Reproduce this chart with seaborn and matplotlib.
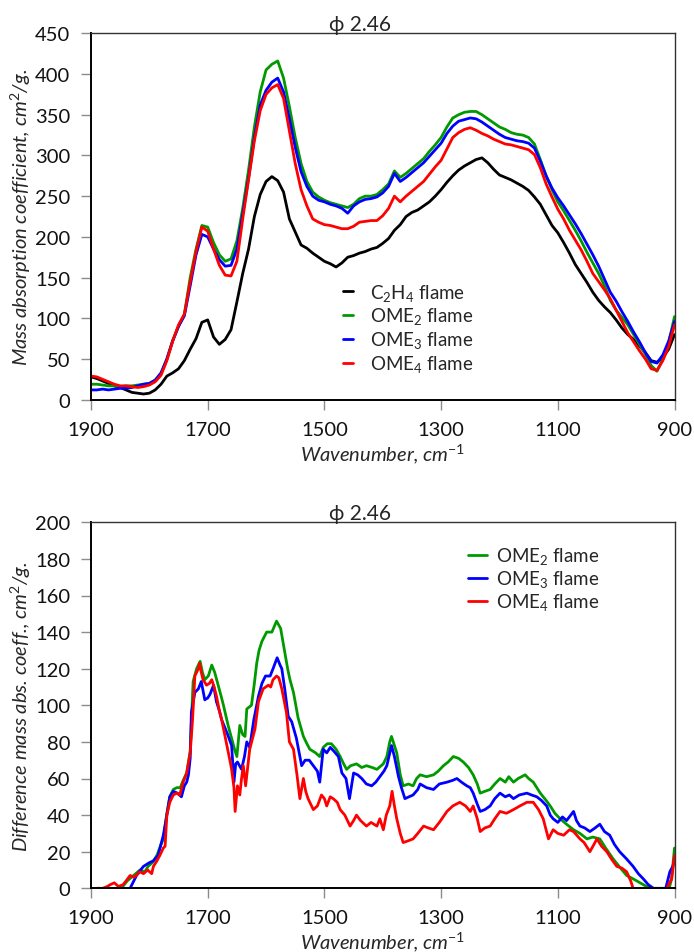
import matplotlib
matplotlib.use("Agg")
import matplotlib.pyplot as plt
import seaborn as sns

# ---------------------------------------------------------------------------
# Upper panel: mass absorption coefficient spectra (cm^2/g), 1900 -> 900 cm^-1
# ---------------------------------------------------------------------------
top_wavenumber = list(range(1900, 899, -10))

c2h4_flame = [
    28, 26, 23, 20, 17, 15, 12, 9, 8, 7,
    8, 12, 19, 29, 33, 38, 48, 62, 75, 95,
    98, 77, 68, 74, 86, 120, 155, 185, 225, 252,
    268, 274, 269, 255, 222, 206, 190, 186, 180, 175,
    170, 167, 163, 168, 175, 177, 180, 182, 185, 187,
    192, 198, 208, 215, 225, 230, 233, 238, 243, 250,
    258, 267, 275, 282, 287, 291, 295, 297, 291, 283,
    276, 273, 270, 266, 262, 257, 249, 240, 227, 214,
    205, 193, 180, 166, 155, 144, 132, 122, 114, 107,
    98, 88, 80, 74, 66, 58, 48, 46, 52, 62,
    80,
]
ome2_flame = [
    19, 19, 18, 17, 17, 16, 17, 17, 18, 19,
    20, 24, 32, 50, 73, 90, 105, 150, 185, 214,
    212, 193, 178, 170, 173, 195, 235, 282, 335, 378,
    405, 412, 416, 395, 360, 322, 290, 268, 255, 249,
    245, 242, 240, 238, 236, 240, 247, 250, 250, 252,
    258, 265, 281, 273, 278, 284, 290, 296, 305, 313,
    322, 335, 346, 350, 353, 354, 354, 350, 345, 340,
    335, 332, 328, 326, 325, 322, 314, 295, 275, 258,
    243, 232, 220, 208, 195, 181, 168, 155, 140, 122,
    110, 101, 92, 80, 68, 56, 42, 35, 50, 70,
    102,
]
ome3_flame = [
    12, 12, 13, 12, 13, 14, 14, 15, 17, 19,
    20, 24, 33, 50, 72, 90, 103, 140, 178, 203,
    200, 185, 172, 164, 165, 185, 228, 272, 322, 362,
    380, 390, 395, 378, 345, 310, 280, 262, 250, 245,
    243, 240, 238, 235, 229, 238, 243, 246, 247, 249,
    254, 262, 278, 268, 273, 279, 285, 291, 299, 307,
    315, 327, 336, 342, 344, 346, 345, 341, 336, 331,
    326, 322, 320, 318, 317, 315, 309, 293, 275, 260,
    248, 238, 227, 216, 204, 191, 178, 164, 148, 132,
    121, 108, 96, 83, 71, 58, 47, 45, 55, 72,
    96,
]
ome4_flame = [
    29, 28, 25, 22, 19, 17, 17, 16, 15, 16,
    18, 22, 30, 48, 72, 92, 105, 145, 182, 212,
    207, 185, 165, 153, 152, 170, 222, 270, 318, 355,
    375, 383, 387, 370, 330, 290, 258, 238, 222, 218,
    215, 214, 212, 210, 210, 213, 218, 219, 220, 220,
    226, 235, 250, 243, 250, 256, 262, 268, 277, 286,
    294, 308, 322, 328, 332, 334, 331, 327, 324, 320,
    317, 314, 313, 311, 309, 307, 301, 285, 265, 249,
    234, 222, 208, 196, 184, 170, 155, 145, 135, 124,
    110, 96, 82, 71, 60, 50, 38, 36, 48, 65,
    92,
]

# ---------------------------------------------------------------------------
# Lower panel: difference mass absorption coefficient (cm^2/g)
# ---------------------------------------------------------------------------
diff_ome2_wavenumber = [
    1900, 1870, 1848, 1838, 1827, 1816, 1808, 1802, 1795, 1787, 1780, 1776,
    1770, 1765, 1759, 1753, 1747, 1742, 1736, 1730, 1725, 1719, 1713, 1709,
    1705, 1699, 1693, 1688, 1682, 1677, 1673, 1665, 1659, 1654, 1650, 1645,
    1640, 1636, 1633, 1625, 1620, 1616, 1612, 1607, 1599, 1590, 1586, 1582,
    1575, 1568, 1563, 1559, 1553, 1545, 1536, 1530, 1525, 1515, 1508, 1502,
    1495, 1488, 1480, 1473, 1467, 1462, 1455, 1445, 1436, 1428, 1418, 1410,
    1399, 1393, 1388, 1385, 1380, 1376, 1370, 1365, 1356, 1348, 1342, 1336,
    1325, 1313, 1305, 1296, 1288, 1279, 1270, 1262, 1253, 1245, 1238, 1233,
    1225, 1216, 1208, 1199, 1190, 1184, 1176, 1168, 1156, 1150, 1142, 1136,
    1130, 1120, 1113, 1105, 1096, 1085, 1073, 1062, 1050, 1040, 1028, 1018,
    1005, 995, 982, 970, 959, 948, 940, 925, 910, 905, 900,
]
diff_ome2 = [
    -6, -3, 0, 4, 7, 10, 9, 12, 14, 18, 24, 27,
    41, 50, 54, 55, 55, 59, 63, 75, 113, 120, 124, 118,
    114, 116, 122, 118, 111, 105, 100, 89, 82, 76, 72, 89,
    84, 83, 98, 100, 112, 123, 130, 135, 140, 140, 143, 146,
    142, 129, 120, 114, 107, 93, 83, 79, 76, 74, 72, 77,
    79, 79, 76, 72, 68, 65, 67, 68, 66, 67, 66, 65,
    68, 72, 80, 83, 78, 74, 62, 56, 57, 56, 60, 62,
    61, 62, 64, 67, 69, 72, 71, 69, 66, 62, 57, 52,
    53, 54, 57, 60, 58, 61, 58, 60, 62, 60, 58, 55,
    52, 48, 45, 41, 38, 35, 32, 30, 27, 28, 27, 22,
    16, 12, 7, 5, 3, 1, 0, -1, -1, 5, 22,
]

diff_ome3_wavenumber = [
    1900, 1860, 1833, 1822, 1815, 1810, 1800, 1793, 1785, 1776, 1770, 1765,
    1759, 1752, 1745, 1740, 1736, 1733, 1730, 1728, 1722, 1716, 1711, 1708,
    1705, 1700, 1696, 1690, 1685, 1680, 1676, 1667, 1659, 1655, 1652, 1649,
    1642, 1637, 1633, 1628, 1621, 1613, 1607, 1601, 1593, 1588, 1581, 1576,
    1573, 1568, 1562, 1556, 1548, 1539, 1533, 1526, 1519, 1512, 1508, 1502,
    1496, 1490, 1484, 1476, 1470, 1463, 1457, 1450, 1443, 1436, 1428, 1419,
    1412, 1405, 1398, 1393, 1385, 1380, 1373, 1368, 1362, 1355, 1348, 1340,
    1336, 1325, 1313, 1303, 1290, 1280, 1273, 1265, 1256, 1250, 1245, 1238,
    1233, 1225, 1216, 1208, 1199, 1190, 1183, 1176, 1166, 1153, 1145, 1136,
    1128, 1119, 1113, 1108, 1100, 1092, 1085, 1073, 1068, 1062, 1054, 1045,
    1036, 1028, 1020, 1011, 1003, 994, 982, 971, 962, 953, 945, 936,
    915, 908, 903, 900,
]
diff_ome3 = [
    -8, -4, 0, 7, 10, 12, 14, 15, 18, 29, 40, 50,
    53, 52, 50, 56, 58, 62, 71, 96, 107, 109, 113, 108,
    103, 104, 106, 111, 102, 97, 92, 85, 78, 58, 68, 69,
    65, 72, 80, 77, 92, 105, 112, 116, 116, 120, 126, 122,
    120, 109, 94, 91, 82, 67, 70, 70, 67, 64, 58, 76,
    74, 77, 75, 72, 63, 60, 49, 63, 62, 60, 57, 56,
    58, 61, 64, 67, 78, 72, 61, 55, 49, 50, 51, 54,
    57, 55, 54, 57, 58, 59, 60, 58, 56, 55, 52, 46,
    42, 43, 45, 49, 52, 50, 51, 49, 51, 52, 51, 50,
    48, 45, 40, 38, 36, 39, 37, 42, 37, 34, 33, 31,
    33, 35, 31, 29, 24, 20, 16, 12, 8, 5, 2, 0,
    0, 9, 12, 15,
]

diff_ome4_wavenumber = [
    1895, 1890, 1880, 1872, 1867, 1860, 1853, 1845, 1840, 1833, 1826, 1816,
    1810, 1803, 1796, 1793, 1787, 1782, 1776, 1773, 1770, 1765, 1759, 1753,
    1748, 1742, 1736, 1730, 1726, 1722, 1716, 1714, 1711, 1708, 1702, 1697,
    1693, 1689, 1685, 1680, 1676, 1667, 1662, 1659, 1655, 1653, 1649, 1645,
    1642, 1639, 1635, 1628, 1619, 1613, 1605, 1596, 1592, 1588, 1582, 1578,
    1573, 1565, 1560, 1553, 1547, 1542, 1536, 1532, 1528, 1519, 1512, 1505,
    1500, 1496, 1490, 1485, 1478, 1473, 1465, 1456, 1450, 1445, 1438, 1428,
    1420, 1410, 1405, 1399, 1394, 1388, 1384, 1380, 1376, 1370, 1365, 1356,
    1348, 1340, 1330, 1322, 1313, 1303, 1290, 1280, 1268, 1258, 1250, 1245,
    1238, 1233, 1225, 1216, 1208, 1199, 1188, 1176, 1165, 1153, 1142, 1133,
    1125, 1116, 1108, 1100, 1090, 1080, 1073, 1062, 1055, 1045, 1038, 1033,
    1025, 1016, 1008, 999, 990, 982, 975, 971, 950, 930, 915, 905, 900,
]
diff_ome4 = [
    -1, 0, 0, 1, 2, 3, 1, 2, 4, 7, 6, 9,
    8, 10, 8, 12, 15, 18, 22, 23, 40, 47, 51, 52,
    51, 58, 63, 74, 92, 116, 120, 123, 118, 114, 111, 112,
    114, 110, 105, 97, 92, 78, 70, 65, 55, 42, 56, 51,
    60, 67, 56, 76, 87, 102, 109, 111, 110, 114, 116, 115,
    109, 96, 80, 76, 62, 49, 60, 53, 49, 43, 45, 51,
    49, 45, 50, 49, 47, 43, 40, 34, 37, 40, 37, 34,
    36, 34, 38, 32, 40, 45, 53, 45, 38, 30, 25, 26,
    27, 30, 34, 33, 32, 36, 42, 45, 47, 45, 42, 45,
    38, 31, 33, 34, 38, 42, 41, 43, 45, 47, 47, 43,
    38, 27, 32, 30, 29, 32, 31, 27, 25, 20, 24, 27,
    23, 20, 16, 12, 11, 9, 4, 0, -2, -2, -1, 5, 18,
]

x_ticks = [1900, 1700, 1500, 1300, 1100, 900]
phi_label = "\u03d5 2.46"

GREEN = "#009a00"
BLUE = "#0000ff"
RED = "#ff0000"
BLACK = "#000000"

# ---------------------------------------------------------------------------
sns.set_style("ticks")
plt.rcParams["font.family"] = ["Lato", "DejaVu Sans"]
plt.rcParams["mathtext.fontset"] = "custom"
plt.rcParams["mathtext.rm"] = "Lato"
plt.rcParams["mathtext.it"] = "Lato:italic"
plt.rcParams["mathtext.bf"] = "Lato:bold"

fig = plt.figure(figsize=(6.94, 9.53), dpi=100)
W, H = 694, 953


def axes_from_px(left, top, right, bottom):
    return fig.add_axes([left / W, 1 - bottom / H, (right - left) / W, (bottom - top) / H])


ax_top = axes_from_px(91, 34.3, 674.5, 400.7)
ax_bot = axes_from_px(91, 523.3, 674.5, 889.3)

LW = 2.0

for wn, vals, col, lab in [
    (top_wavenumber, c2h4_flame, BLACK, r"C$_2$H$_4$ flame"),
    (top_wavenumber, ome2_flame, GREEN, r"OME$_2$ flame"),
    (top_wavenumber, ome3_flame, BLUE, r"OME$_3$ flame"),
    (top_wavenumber, ome4_flame, RED, r"OME$_4$ flame"),
]:
    sns.lineplot(x=wn, y=vals, color=col, lw=LW, ax=ax_top, sort=False,
                 estimator=None, label=lab)

for wn, vals, col, lab in [
    (diff_ome2_wavenumber, diff_ome2, GREEN, r"OME$_2$ flame"),
    (diff_ome3_wavenumber, diff_ome3, BLUE, r"OME$_3$ flame"),
    (diff_ome4_wavenumber, diff_ome4, RED, r"OME$_4$ flame"),
]:
    sns.lineplot(x=wn, y=vals, color=col, lw=LW, ax=ax_bot, sort=False,
                 estimator=None, label=lab)


def style_axes(ax, ymax, ystep, ylabel):
    ax.set_xlim(1900, 900)
    ax.set_ylim(0, ymax)
    ax.set_xticks(x_ticks)
    ax.set_xticklabels([str(t) for t in x_ticks])
    ax.set_yticks(list(range(0, ymax + 1, ystep)))
    ax.tick_params(axis="both", direction="out", length=7, width=1,
                   color="#8c8c8c", labelsize=14.5, labelcolor="#111111")
    ax.tick_params(axis="x", pad=8)
    ax.tick_params(axis="y", pad=8)
    for side in ["left", "bottom"]:
        ax.spines[side].set_linewidth(1.4)
        ax.spines[side].set_color("#000000")
    for side in ["top", "right"]:
        ax.spines[side].set_visible(True)
        ax.spines[side].set_linewidth(1.0)
        ax.spines[side].set_color("#333333")
    ax.set_xlabel(r"Wavenumber, cm$^{-1}$", fontsize=14.5, style="italic")
    ax.set_ylabel(ylabel, fontsize=14.5, style="italic")
    ax.yaxis.set_label_coords(-0.099, 0.5)
    ax.xaxis.set_label_coords(0.5, -0.113)
    ax.grid(False)


style_axes(ax_top, 450, 50, r"Mass absorption coefficient, cm$^2$/g.")
style_axes(ax_bot, 200, 20, r"Difference mass abs. coeff., cm$^2$/g.")

ax_top.legend(loc="center left", bbox_to_anchor=(0.432, 0.196), frameon=False,
              fontsize=13.5, handlelength=0.55, handletextpad=0.9,
              labelspacing=0.15, borderpad=0, borderaxespad=0)
ax_bot.legend(loc="center left", bbox_to_anchor=(0.646, 0.846), frameon=False,
              fontsize=13.5, handlelength=1.0, handletextpad=0.5,
              labelspacing=0.11, borderpad=0, borderaxespad=0)

fig.text(360 / W, 1 - 25 / H, phi_label, ha="center", va="center", fontsize=15)
fig.text(360 / W, 1 - 514 / H, phi_label, ha="center", va="center", fontsize=15)

fig.savefig("out.png", dpi=100)
